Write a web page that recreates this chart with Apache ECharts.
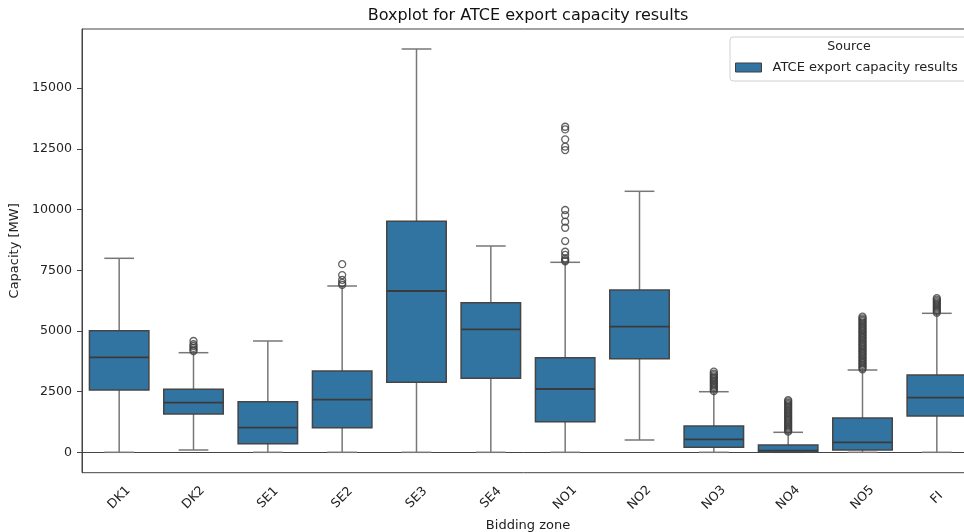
<!DOCTYPE html>
<html><head><meta charset="utf-8">
<script src="https://cdn.jsdelivr.net/npm/echarts@6/dist/echarts.min.js"></script>
<style>html,body{margin:0;padding:0;background:#fff}#c{width:964px;height:532px}</style>
</head><body><div id="c"></div>
<script>
var categories = ['DK1','DK2','SE1','SE2','SE3','SE4','NO1','NO2','NO3','NO4','NO5','FI'];
// [min, q1, median, q3, max] whisker ends and quartiles
var boxMin    = [0,    95,   0,    0,    0,    0,    0,    507,  0,    0,   0,    0];
var boxQ1     = [2566, 1578, 356,  1014, 2883, 3048, 1261, 3856, 206,  0,   95,   1495];
var boxMedian = [3913, 2043, 1014, 2167, 6644, 5066, 2607, 5174, 535,  66,  412,  2249];
var boxQ3     = [5009, 2595, 2085, 3349, 9515, 6162, 3897, 6685, 1083, 301, 1413, 3184];
var boxMax    = [7991, 4103, 4585, 6850, 16612,8498, 7826, 10751,2496, 824, 3390, 5725];
// outliers per category
var outDK2 = [4170, 4230, 4300, 4380, 4450, 4585];
var outSE2 = [6900, 6975, 7100, 7300, 7750];
var outNO1 = [7870, 7920, 7990, 8130, 8260, 8700, 9250, 9500, 9770, 9980, 12450, 12590, 12890, 13300, 13410];
var outNO3 = [2520, 2580, 2640, 2700, 2760, 2820, 2880, 2940, 3000, 3060, 3120, 3180, 3240, 3320];
var outNO4 = [850, 900, 960, 1020, 1080, 1140, 1200, 1260, 1320, 1380, 1440, 1500, 1560, 1620, 1680, 1740, 1800, 1860, 1920, 1980, 2040, 2100, 2150];
var outNO5 = [3420, 3480, 3540, 3600, 3660, 3720, 3780, 3840, 3900, 3960, 4020, 4080, 4140, 4200, 4260, 4320, 4380, 4440, 4500, 4560, 4620, 4680, 4740, 4800, 4860, 4920, 4980, 5040, 5100, 5160, 5220, 5280, 5340, 5400, 5460, 5520, 5585];
var outFI  = [5750, 5810, 5870, 5930, 5990, 6050, 6110, 6170, 6230, 6290, 6350];
var yTicks = [0, 2500, 5000, 7500, 10000, 12500, 15000];

var boxData = categories.map(function(c, i){
  return [i, boxMin[i], boxQ1[i], boxMedian[i], boxQ3[i], boxMax[i]];
});
var outliers = [];
[[1, outDK2],[3, outSE2],[6, outNO1],[8, outNO3],[9, outNO4],[10, outNO5],[11, outFI]].forEach(function(p){
  p[1].forEach(function(v){ outliers.push([p[0], v]); });
});

var BOX_FILL = '#3274a1';
var chart = echarts.init(document.getElementById('c'));
chart.setOption({
  animation: false,
  textStyle: {fontFamily: 'DejaVu Sans'},
  graphic: [{
    type: 'text', x: 528, y: 15.5, z: 100,
    style: {text: 'Boxplot for ATCE export capacity results', fontSize: 16, fill: '#111', fontFamily: 'DejaVu Sans', align: 'center', verticalAlign: 'middle'}
  }, {
    type: 'text', x: 849, y: 47, z: 100,
    style: {text: 'Source', fontSize: 12.6, fill: '#222', fontFamily: 'DejaVu Sans', align: 'center', verticalAlign: 'middle'}
  }],
  legend: {
    data: ['ATCE export capacity results'],
    left: 730, top: 37, z: 1,
    orient: 'vertical',
    padding: [24, 20, 7, 5],
    backgroundColor: '#fff',
    borderColor: '#d0d0d0', borderWidth: 1, borderRadius: 3,
    itemWidth: 26, itemHeight: 9,
    icon: 'rect',
    itemStyle: {color: BOX_FILL, borderColor: '#3f3f3f', borderWidth: 1},
    textStyle: {fontSize: 13, color: '#222', fontFamily: 'DejaVu Sans', padding: [0, 0, 0, 6]}
  },
  grid: {left: 82, top: 29, width: 892, height: 443.7, outerBoundsMode: 'none', containLabel: false,
         show: true, borderColor: '#444', borderWidth: 1, backgroundColor: 'transparent'},
  xAxis: {
    type: 'category', data: categories, boundaryGap: true,
    name: 'Bidding zone', nameLocation: 'middle', nameGap: 41,
    nameTextStyle: {fontSize: 13, color: '#222'},
    axisLine: {lineStyle: {color: '#444', width: 1}},
    axisTick: {alignWithLabel: true, length: 5, lineStyle: {color: '#444'}},
    axisLabel: {rotate: 45, fontSize: 12.6, color: '#222', align: 'center', verticalAlign: 'middle', margin: 25},
    splitLine: {show: false}
  },
  yAxis: {
    type: 'value', min: -840, max: 17436,
    name: 'Capacity [MW]', nameLocation: 'middle', nameGap: 51,
    nameTextStyle: {fontSize: 13, color: '#222'},
    axisLine: {show: true, lineStyle: {color: '#444', width: 1}},
    axisTick: {show: true, length: 5, lineStyle: {color: '#444'}, customValues: yTicks},
    axisLabel: {fontSize: 12.6, color: '#222', margin: 10, customValues: yTicks,
                formatter: function(v){ return String(v); }},
    splitLine: {show: false}
  },
  series: [{
    name: 'ATCE export capacity results',
    type: 'custom',
    color: BOX_FILL,
    data: boxData,
    encode: {x: 0, y: [1, 2, 3, 4, 5]},
    renderItem: function(params, api){
      var x = api.value(0);
      var band = api.size([1, 0])[0];
      var bw = band * 0.8, cw = bw / 2;
      var pMin = api.coord([x, api.value(1)]);
      var pQ1 = api.coord([x, api.value(2)]);
      var pMed = api.coord([x, api.value(3)]);
      var pQ3 = api.coord([x, api.value(4)]);
      var pMax = api.coord([x, api.value(5)]);
      var cx = pMin[0];
      var wStyle = {stroke: '#777', lineWidth: 1.5};
      return {type: 'group', children: [
        {type: 'line', shape: {x1: cx, y1: pMin[1], x2: cx, y2: pQ1[1]}, style: wStyle},
        {type: 'line', shape: {x1: cx, y1: pQ3[1], x2: cx, y2: pMax[1]}, style: wStyle},
        {type: 'line', shape: {x1: cx - cw/2, y1: pMin[1], x2: cx + cw/2, y2: pMin[1]}, style: wStyle},
        {type: 'line', shape: {x1: cx - cw/2, y1: pMax[1], x2: cx + cw/2, y2: pMax[1]}, style: wStyle},
        {type: 'rect', shape: {x: cx - bw/2, y: pQ3[1], width: bw, height: pQ1[1] - pQ3[1]},
          style: {fill: BOX_FILL, stroke: '#454545', lineWidth: 1.5}},
        {type: 'line', shape: {x1: cx - bw/2, y1: pMed[1], x2: cx + bw/2, y2: pMed[1]}, style: {stroke: '#3a3a3a', lineWidth: 1.8}}
      ]};
    }
  }, {
    name: 'outliers',
    type: 'scatter',
    data: outliers,
    symbol: 'circle', symbolSize: 7,
    itemStyle: {color: 'rgba(0,0,0,0)', borderColor: '#3d3d3d', borderWidth: 1.3},
    z: 3
  }]
});
</script></body></html>
